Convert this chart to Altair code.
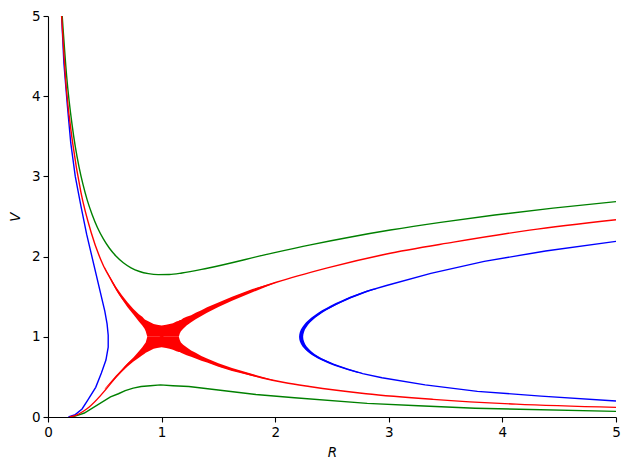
import altair as alt
import pandas as pd

# ---- solution curves (R, V) ----
green_hi_R = [0.125,0.164,0.213,0.241,0.273,0.308,0.346,0.389,0.435,0.486,0.541,0.6,0.663,0.731,0.806,0.884,0.97,1.067,1.179,1.403,1.975,2.31,2.654,3.013,3.456,3.933,4.446,5]
green_hi_V = [5,4.252,3.632,3.364,3.12,2.9,2.701,2.522,2.363,2.224,2.104,2.004,1.923,1.86,1.814,1.787,1.775,1.777,1.795,1.855,2.044,2.147,2.242,2.331,2.427,2.518,2.604,2.686]
green_lo_R = [0.21,0.26,0.32,0.55,0.62,0.68,0.75,0.82,0.9,0.99,1.1,1.24,1.83,2.17,2.81,3.26,3.76,5]
green_lo_V = [0,0.02,0.05,0.25,0.29,0.33,0.36,0.38,0.39,0.4,0.39,0.38,0.28,0.24,0.17,0.14,0.11,0.07]
red_hi_R = [0.12,0.16,0.22,0.29,0.38,0.49,0.56,0.63,0.71,0.8,0.89,1,1.29,1.62,2.01,2.46,2.97,3.57,4.24,5]
red_hi_V = [5,4.12,3.39,2.8,2.3,1.88,1.7,1.53,1.38,1.24,1.12,1,1.25,1.48,1.68,1.86,2.03,2.18,2.33,2.46]
red_lo_R = [0.19,0.26,0.34,0.71,0.85,1,1.12,1.24,1.38,1.53,1.7,1.88,2.08,2.3,2.8,3.39,4.12,5]
red_lo_V = [0,0.03,0.1,0.67,0.84,1,0.89,0.8,0.71,0.63,0.56,0.49,0.43,0.38,0.29,0.22,0.16,0.12]
blue_left_R = [0.18,0.24,0.3,0.35,0.42,0.47,0.51,0.53,0.53,0.52,0.5,0.34,0.29,0.24,0.2,0.17,0.14,0.12]
blue_left_V = [0,0.03,0.1,0.21,0.37,0.55,0.71,0.87,1.02,1.16,1.32,2.28,2.63,3,3.42,3.89,4.41,5]
blue_right_R = [5,4.34,3.78,3.32,2.94,2.77,2.63,2.51,2.41,2.33,2.27,2.24,2.23,2.24,2.28,2.34,2.42,2.53,2.66,2.81,2.98,3.37,3.84,4.38,5]
blue_right_V = [0.2,0.26,0.32,0.4,0.49,0.54,0.6,0.66,0.72,0.78,0.85,0.93,1,1.08,1.16,1.24,1.32,1.4,1.49,1.57,1.64,1.79,1.94,2.07,2.19]

# ---- thick red region around the critical point (1, 1) ----
star_R = [0.5,0.56,0.6,0.65,0.7,0.75,0.8,0.83,0.85,0.86,0.874,0.9,0.93,0.96,1,1.04,1.07,1.1,1.13,1.152,1.16,1.17,1.19,1.22,1.26,1.3,1.35,1.4,1.5,1.62,1.8,2.0]
star_up_lo = [1.86,1.68,1.58,1.47,1.37,1.28,1.19,1.14,1.1,1.07,1,1,1,1,1,1,1,1,1,1,1.04,1.07,1.1,1.14,1.18,1.22,1.26,1.3,1.373,1.45,1.555,1.67]
star_up_hi = [1.87,1.715,1.62,1.52,1.43,1.35,1.28,1.25,1.22,1.21,1.2,1.18,1.16,1.15,1.14,1.15,1.16,1.17,1.19,1.2,1.21,1.21,1.23,1.25,1.27,1.3,1.33,1.37,1.428,1.5,1.596,1.68]
star_lo_lo = [0.345,0.433,0.49,0.56,0.63,0.69,0.74,0.77,0.79,0.8,0.81,0.83,0.85,0.86,0.87,0.86,0.85,0.84,0.82,0.81,0.81,0.8,0.79,0.77,0.75,0.73,0.7,0.68,0.627,0.575,0.51,0.45]
star_lo_hi = [0.355,0.454,0.52,0.59,0.67,0.74,0.82,0.87,0.91,0.93,1,1,1,1,1,1,1,1,1,1,0.96,0.93,0.9,0.87,0.83,0.8,0.76,0.73,0.669,0.61,0.535,0.456]

# ---- thicker blue band at the turning point of the right blue curve ----
apex_V = [0.55,0.58,0.61,0.64,0.67,0.7,0.73,0.76,0.79,0.82,0.85,0.88,0.91,0.94,0.97,1,1.03,1.06,1.09,1.12,1.15,1.18,1.21,1.24,1.27,1.3,1.33,1.36,1.39,1.42,1.45,1.48,1.51,1.54,1.57,1.6]
apex_R_lo = [2.728,2.65,2.581,2.52,2.465,2.417,2.375,2.338,2.307,2.28,2.258,2.24,2.227,2.217,2.212,2.21,2.212,2.217,2.226,2.238,2.254,2.272,2.294,2.319,2.347,2.378,2.412,2.45,2.49,2.533,2.58,2.629,2.682,2.738,2.797,2.86]
apex_R_hi = [2.766,2.689,2.619,2.558,2.503,2.454,2.412,2.375,2.344,2.317,2.295,2.277,2.263,2.254,2.248,2.246,2.248,2.254,2.262,2.275,2.29,2.309,2.331,2.356,2.384,2.415,2.45,2.487,2.527,2.571,2.618,2.668,2.721,2.777,2.837,2.9]

ticks = [0, 1, 2, 3, 4, 5]


def split_at_one(Rs, Vs):
    k = Rs.index(1)
    return (Rs[:k + 1], Vs[:k + 1]), (Rs[k:], Vs[k:])


(rhl, rhr) = split_at_one(red_hi_R, red_hi_V)
(rll, rlr) = split_at_one(red_lo_R, red_lo_V)
smooth_curves = [
    ("green_hi", "green", green_hi_R, green_hi_V),
    ("red_hi_a", "red", *rhl), ("red_hi_b", "red", *rhr),
    ("red_lo_a", "red", *rll), ("red_lo_b", "red", *rlr),
]
straight_curves = [
    ("green_lo", "green", green_lo_R, green_lo_V),
    ("blue_left", "blue", blue_left_R, blue_left_V),
    ("blue_right", "blue", blue_right_R, blue_right_V),
]


def to_df(curves):
    rows = []
    for name, grp, Rs, Vs in curves:
        for i, (r, v) in enumerate(zip(Rs, Vs)):
            rows.append({"curve": name, "grp": grp, "R": r, "V": v, "i": i})
    return pd.DataFrame(rows)


star_df = pd.DataFrame({"R": star_R, "ul": star_up_lo, "uh": star_up_hi, "ll": star_lo_lo, "lh": star_lo_hi})
apex_df = pd.DataFrame({"V": apex_V, "Rlo": apex_R_lo, "Rhi": apex_R_hi})

FONT = "DejaVu Sans"
sx = alt.Scale(domain=[0, 5], nice=False, zero=False)
sy = alt.Scale(domain=[0, 5], nice=False, zero=False)
common = dict(grid=False, values=ticks, format="d", domainColor="black", domainWidth=1.1,
              tickColor="black", tickWidth=1.1, tickSize=5, labelFont=FONT, labelFontSize=13.5,
              labelColor="black", labelPadding=3, labelFlush=False, titleFont=FONT,
              titleFontSize=13.5, titleFontStyle="italic", titleFontWeight="normal", titleColor="black")
ax_x = alt.Axis(title="R", titlePadding=7, **common)
ax_y = alt.Axis(title="V", titlePadding=9, **common)

color_scale = alt.Scale(domain=["green", "red", "blue"], range=["#008000", "#ff0000", "#0000ff"])


def line_layer(df, interp):
    return alt.Chart(df).mark_line(strokeWidth=1.4, clip=True, interpolate=interp).encode(
        x=alt.X("R:Q", scale=sx, axis=ax_x),
        y=alt.Y("V:Q", scale=sy, axis=ax_y),
        color=alt.Color("grp:N", scale=color_scale, legend=None),
        detail="curve:N",
        order=alt.Order("i:Q"),
    )


straight_lines = line_layer(to_df(straight_curves), "linear")
smooth_lines = line_layer(to_df(smooth_curves), "monotone")

star_up = alt.Chart(star_df).mark_area(color="#ff0000", clip=True).encode(
    x=alt.X("R:Q", scale=sx, axis=ax_x),
    y=alt.Y("ul:Q", scale=sy, axis=ax_y),
    y2="uh:Q",
)
star_lo = alt.Chart(star_df).mark_area(color="#ff0000", clip=True).encode(
    x=alt.X("R:Q", scale=sx, axis=ax_x),
    y=alt.Y("ll:Q", scale=sy, axis=ax_y),
    y2="lh:Q",
)
apex = alt.Chart(apex_df).mark_area(color="#0000ff", orient="horizontal", clip=True).encode(
    y=alt.Y("V:Q", scale=sy, axis=ax_y),
    x=alt.X("Rlo:Q", scale=sx, axis=ax_x),
    x2="Rhi:Q",
)

chart = alt.layer(apex, straight_lines, smooth_lines, star_up, star_lo).properties(
    width=568, height=401,
    autosize=alt.AutoSizeParams(type="none"),
    padding={"left": 40, "top": 8, "right": 6, "bottom": 45},
    background="white",
).configure_view(stroke=None)

chart.save("out.html", embed_options={"renderer": "svg", "actions": False})
